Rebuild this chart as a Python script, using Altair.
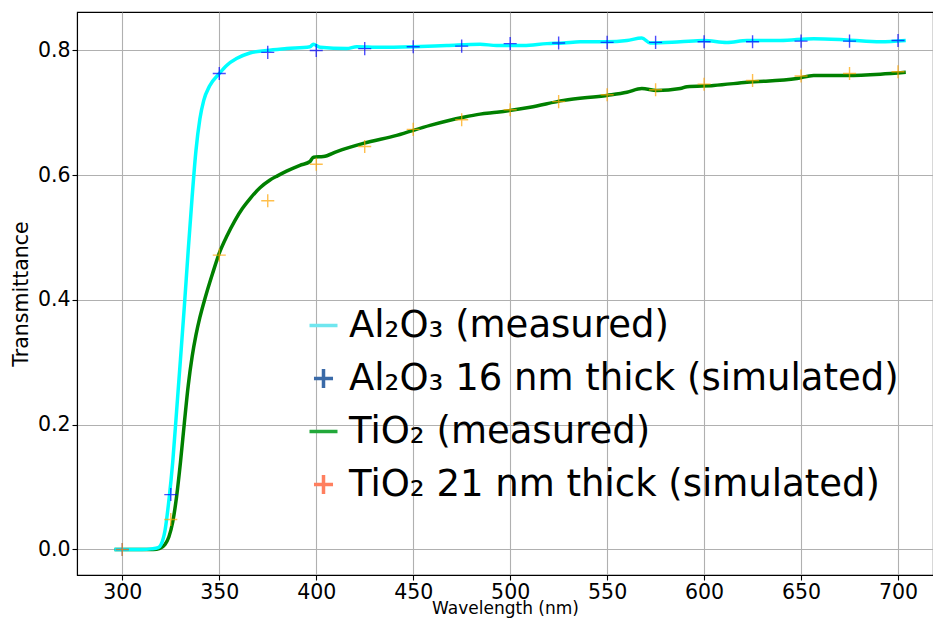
import altair as alt
import pandas as pd

labels = ["Al₂O₃ (measured)", "Al₂O₃ 16 nm thick (simulated)",
          "TiO₂ (measured)", "TiO₂ 21 nm thick (simulated)"]
legend_colors = ["#6fe6ef", "#3a6aa8", "#22a83a", "#ff7f5f"]

# measured Al2O3 (wavelength nm, transmittance)
al_wl = [296, 300, 305, 310, 315, 318.5, 320, 322, 324, 326, 328, 330, 332, 334, 336,
         338, 340, 342, 345, 350, 353.8, 358.9, 365.8, 374.5, 384.8, 396.8, 398.5,
         402, 415.7, 420.9, 432.9, 450, 467.3, 484.5, 493.1, 506.9, 519, 527.5, 536.1,
         549.9, 560.2, 567.9, 572.2, 587.7, 599.8, 611.8, 622.1, 639.3, 656.5, 673.7,
         690.9, 704]
al_T = [0.0, 0.0, 0.0, 0.0, 0.001, 0.003, 0.008, 0.030, 0.078, 0.140, 0.222, 0.305,
        0.390, 0.480, 0.565, 0.640, 0.690, 0.720, 0.743, 0.763, 0.776, 0.787, 0.796,
        0.800, 0.803, 0.806, 0.810, 0.805, 0.803, 0.806, 0.805, 0.806, 0.808, 0.810,
        0.808, 0.808, 0.811, 0.812, 0.814, 0.814, 0.816, 0.820, 0.812, 0.814, 0.816,
        0.813, 0.816, 0.816, 0.819, 0.817, 0.814, 0.816]

# measured TiO2
ti_wl = [296, 300, 310, 316, 319.4, 322, 324, 326, 328, 330, 332, 334, 336, 338, 340,
         342.6, 346.5, 350, 354, 358, 362, 366, 371, 376, 380, 385, 391.6, 396.8,
         398.5, 403.7, 410.6, 424.3, 441.5, 458.7, 475.9, 484.5, 493.1, 510.3, 527.5,
         549.9, 560.2, 567.9, 575.6, 587.7, 591.2, 604.9, 622.1, 647.9, 656.5, 673.7,
         690.9, 704]
ti_T = [0.0, 0.0, 0.0, 0.0, 0.002, 0.008, 0.020, 0.044, 0.085, 0.140, 0.203, 0.263,
        0.309, 0.344, 0.372, 0.402, 0.442, 0.475, 0.503, 0.527, 0.547, 0.563, 0.580,
        0.592, 0.599, 0.607, 0.616, 0.622, 0.629, 0.630, 0.638, 0.651, 0.664, 0.680,
        0.693, 0.698, 0.701, 0.709, 0.720, 0.728, 0.733, 0.739, 0.736, 0.739, 0.742,
        0.744, 0.749, 0.755, 0.760, 0.760, 0.762, 0.765]

# simulated
sim_wl = [300, 325, 350, 375, 400, 425, 450, 475, 500, 525, 550, 575, 600, 625, 650, 675, 700]
al_sim = [0.0, 0.088, 0.763, 0.797, 0.800, 0.803, 0.806, 0.807, 0.811, 0.812, 0.813,
          0.813, 0.814, 0.814, 0.815, 0.815, 0.816]
ti_sim = [0.0, 0.048, 0.472, 0.559, 0.6175, 0.646, 0.6735, 0.689, 0.705, 0.718, 0.729,
          0.737, 0.746, 0.752, 0.759, 0.763, 0.766]

x_ticks = [300, 350, 400, 450, 500, 550, 600, 650, 700]
y_ticks = [0.0, 0.2, 0.4, 0.6, 0.8]

al_df = pd.DataFrame({"wl": al_wl, "T": al_T})
ti_df = pd.DataFrame({"wl": ti_wl, "T": ti_T})
al_sim_df = pd.DataFrame({"wl": sim_wl, "T": al_sim})
ti_sim_df = pd.DataFrame({"wl": sim_wl, "T": ti_sim})
legend_df = pd.DataFrame({"series": labels})

dash = "M-1,0L1,0"
plus_small = "M-0.68,0L0.68,0M0,-0.68L0,0.68"
plus_full = "M-1,0L1,0M0,-1L0,1"

xenc = alt.X("wl:Q",
             scale=alt.Scale(domain=[276.64, 718.04], nice=False, zero=False),
             axis=alt.Axis(values=x_ticks, title="Wavelength (nm)", format="d"))
yenc = alt.Y("T:Q",
             scale=alt.Scale(domain=[-0.0409, 0.8617], nice=False, zero=False),
             axis=alt.Axis(values=y_ticks, title="Transmittance", format=".1f"))

ti_line = alt.Chart(ti_df).mark_line(color="#008000", strokeWidth=3.5, interpolate="monotone").encode(x=xenc, y=yenc)
al_line = alt.Chart(al_df).mark_line(color="#00ffff", strokeWidth=3.5, interpolate="monotone").encode(x=xenc, y=yenc)
al_pts = alt.Chart(al_sim_df).mark_point(shape=plus_full, size=170, filled=False, color="#0000ff",
                                         strokeWidth=1.4, opacity=0.7).encode(x=xenc, y=yenc)
ti_pts = alt.Chart(ti_sim_df).mark_point(shape=plus_full, size=170, filled=False, color="#ffa500",
                                         strokeWidth=1.4, opacity=0.7).encode(x=xenc, y=yenc)

leg = alt.Legend(title=None, orient="none", legendX=228, legendY=295,
                 labelFontSize=37, labelFont="DejaVu Sans", labelColor="black",
                 symbolSize=784, symbolStrokeWidth=3.5, symbolOpacity=1,
                 rowPadding=15, labelOffset=7, padding=0, labelLimit=1000)

legend_layer = alt.Chart(legend_df).mark_point(filled=False, opacity=0, strokeWidth=3.5).encode(
    stroke=alt.Stroke("series:N", scale=alt.Scale(domain=labels, range=legend_colors), legend=leg),
    shape=alt.Shape("series:N", scale=alt.Scale(domain=labels, range=[dash, plus_small, dash, plus_small]), legend=leg),
)

chart = alt.layer(ti_line, al_line, al_pts, ti_pts, legend_layer).properties(
    width=856, height=563,
    autosize=alt.AutoSizeParams(type="none"),
    padding={"left": 69, "top": 4, "right": 0, "bottom": 43},
).configure_view(
    stroke="black", strokeWidth=1.1
).configure_axis(
    labelFont="DejaVu Sans", labelFontSize=20.5, labelColor="black",
    titleFont="DejaVu Sans", titleFontSize=20.5, titleFontWeight="normal", titleColor="black",
    grid=True, gridColor="#b0b0b0", gridWidth=1.1,
    domainColor="black", domainWidth=1.1,
    tickColor="black", tickSize=5, tickWidth=1.1,
).configure_axisX(
    labelPadding=2, titlePadding=-2, titleFontSize=17
).configure_axisY(
    labelPadding=2, titlePadding=6
)

chart.save("out.html", embed_options={"renderer": "svg", "actions": False})
